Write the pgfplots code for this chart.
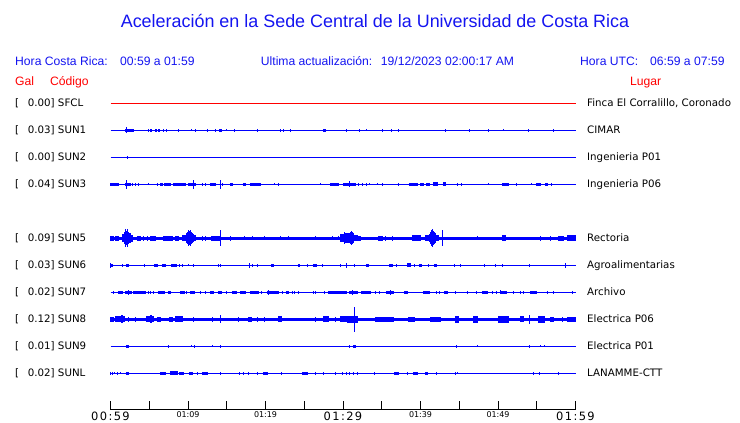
\documentclass[border=0pt]{standalone}
\usepackage{fontspec}
\setmainfont{Liberation Sans}
\newfontfamily\dv{DejaVu Sans}
\newfontfamily\dvl[LetterSpace=12]{DejaVu Sans}
\usepackage{pgfplots}
\usepackage{pgfplotstable}
\pgfplotsset{compat=1.18}
\definecolor{tblue}{RGB}{20,20,240}
\definecolor{tred}{RGB}{255,0,0}
\definecolor{sblue}{RGB}{0,0,255}

% p1 p2 = pixel extent of a burst along the 465 px wide time axis (110 = 00:59, 575 = 01:59), a = half amplitude (px)
\pgfplotstableread{
p1 p2 a
125 127 1.5
126 126 3
128 133 1.5
148 148 1.5
150 151 1.5
155 156 1.5
158 159 1.5
163 163 1.5
166 166 1.5
178 178 1.5
191 191 1
195 195 1.5
207 207 1.5
215 215 1.5
219 221 1.5
226 226 1
234 234 1.5
257 257 1.5
280 280 1.5
283 283 1.5
290 290 1.5
323 325 1.5
346 346 1.5
359 359 1.5
366 366 1
382 382 1.5
391 391 1.5
398 398 1.5
445 445 1.5
469 469 1.5
488 488 1.5
503 503 1
528 528 1.5
553 553 1.5
}\tSUNone
\pgfplotstableread{
p1 p2 a
127 127 1.5
}\tSUNtwo
\pgfplotstableread{
p1 p2 a
110 118 1.5
125 130 1.5
126 126 4.5
132 132 1.5
135 135 1.5
138 138 1.5
148 148 1
157 157 1.5
160 162 1.5
164 170 1.5
173 185 1.5
188 195 1.5
193 193 4.5
202 202 1.5
205 205 1.5
210 215 1.5
220 220 4.5
222 222 1.5
230 232 1.5
243 245 1.5
250 260 1.5
274 274 1
278 278 1.5
320 320 1
330 338 1.5
343 343 1.5
344 355 1.5
349 349 3
358 358 1.5
362 362 1.5
366 366 1.5
369 369 1
377 377 1
382 382 1.5
398 398 1.5
409 417 1.5
420 423 1.5
426 429 1.5
433 437 2
443 445 2
457 457 1.5
461 461 1.5
488 488 1
502 508 1.5
516 516 1.5
531 531 1
536 540 1.5
545 547 1.5
551 551 1.5
}\tSUNthree
\pgfplotstableread{
p1 p2 a
110 113 2.5
115 118 2.5
122 123 4
124 124 6
125 125 9
126 126 7
127 127 9
128 128 6
129 130 5
131 132 3.5
137 140 2.5
143 143 2.5
147 147 2.5
150 155 2.5
163 172 2.5
175 178 2.5
182 185 3
186 186 5
187 187 6
188 188 8
189 189 7
190 190 8
191 191 6
192 192 5
193 193 4
194 195 3
202 202 2.5
205 205 2.5
211 220 2.5
220 220 8
230 230 2.5
244 244 2
252 252 2
264 264 2
280 280 2
288 288 2
315 315 2
332 332 2
338 338 2
340 343 4
344 344 6
345 349 5
350 350 6
351 351 7
352 352 6
353 353 5
354 357 3
358 360 2.5
378 382 2.5
385 385 2.5
392 392 2.5
412 420 3
425 428 3
429 429 4
430 430 6
431 431 8
432 432 9
433 433 7
434 434 6
435 435 5
436 438 3
442 442 8
477 477 2
502 505 3
540 540 2.5
550 550 2.5
558 563 2.5
567 575 3
}\tSUNfive
\pgfplotstableread{
p1 p2 a
110 110 2.5
110 112 1.5
122 122 1.5
126 128 1.5
144 144 1.5
154 157 1.5
162 165 1.5
171 176 1.5
179 179 1.5
182 182 1.5
188 188 1
193 193 1.5
218 218 1.5
220 220 1.5
249 249 2.5
252 252 1.5
257 257 1.5
271 273 1.5
298 299 1.5
307 307 1.5
313 316 1.5
322 322 1.5
340 340 1.5
346 346 2.5
354 354 1.5
366 368 1.5
389 392 1.5
396 396 1.5
407 410 2
414 414 1.5
419 421 1.5
428 428 1.5
434 436 1.5
454 454 1.5
460 460 1.5
484 484 1.5
495 495 1.5
502 502 1.5
529 529 1.5
565 565 2.5
}\tSUNsix
\pgfplotstableread{
p1 p2 a
113 113 1.5
118 122 1.5
125 131 1.5
128 128 2.5
133 136 1.5
137 145 1.5
148 148 1.5
150 150 1.5
153 153 1.5
158 164 1.5
168 170 1.5
180 184 1.5
186 186 1.5
190 194 1.5
200 200 1.5
205 205 1.5
210 213 1.5
218 221 1.5
226 226 1.5
232 236 1.5
240 245 1.5
250 258 1.5
261 261 1.5
267 277 1.5
268 268 2.5
278 278 1.5
282 282 1.5
286 288 1.5
292 292 1.5
294 294 1.5
298 298 1.5
313 313 1.5
315 315 1.5
324 324 1.5
328 346 1.5
349 357 1.5
352 352 2.5
361 370 1.5
375 375 1.5
379 379 1.5
386 393 1.5
390 390 2.5
404 407 1.5
423 429 1.5
436 436 1.5
439 439 1.5
444 447 1.5
455 455 1.5
467 467 1.5
476 476 1.5
482 487 1.5
492 492 1.5
496 496 1.5
500 506 1.5
500 500 2
513 513 1.5
520 520 1.5
523 523 1.5
530 536 1.5
547 547 1.5
553 553 1.5
572 572 1.5
}\tSUNseven
\pgfplotstableread{
p1 p2 a
110 113 2.5
115 124 3
121 122 4
128 128 2.5
135 135 2.5
146 153 3
150 151 4
157 160 2.5
169 172 2.5
175 182 3
193 193 2.5
212 212 2.5
220 220 4
238 238 2.5
248 251 2.5
257 257 2.5
264 264 2.5
278 281 3
315 315 2.5
323 328 3
335 335 2.5
340 347 3
347 357 3.5
354 354 12
375 393 2.5
408 414 2.5
430 440 2.5
455 458 3.5
473 477 3.5
498 508 3.5
520 523 3
529 529 4.5
538 544 3.5
550 553 2.5
562 562 2.5
567 575 2.5
}\tSUNeight
\pgfplotstableread{
p1 p2 a
126 128 1.5
168 168 1.5
191 191 1
194 194 1.5
212 212 1
220 220 1.5
349 349 1.5
353 355 1.5
456 456 1.5
477 477 1
529 529 1.5
540 540 1
544 544 1
}\tSUNnine
\pgfplotstableread{
p1 p2 a
110 110 1.5
112 112 1.5
114 114 1
117 117 1.5
120 120 1
126 128 1.5
160 165 1.5
170 177 2
179 183 1.5
189 192 1.5
197 197 1.5
202 207 1.5
220 220 1.5
239 239 1.5
243 243 1.5
248 248 1.5
257 257 1.5
263 267 1.5
281 281 1.5
302 307 1.5
315 315 1.5
323 323 1.5
335 335 1.5
342 342 1.5
346 346 1.5
349 349 1.5
353 353 1.5
357 357 1.5
374 374 1.5
394 398 1.5
407 407 1.5
413 417 1.5
425 427 1.5
436 436 1.5
455 455 1.5
457 457 1
533 533 1.5
539 539 1.5
558 558 1.5
}\tSUNL

\pgfdeclareplotmark{blob}{\pgfpathrectangle{\pgfpoint{-0.5*\bw bp}{-\ba bp}}{\pgfpoint{\bw bp}{2*\ba bp}}\pgfusepathqfill}
\pgfplotsset{seis/.style={only marks, draw=none, mark=blob, mark options={draw=none, fill=sblue},
  visualization depends on={\thisrow{p2}-\thisrow{p1}+1 \as \bw},
  visualization depends on={\thisrow{a} \as \ba}}}
\newcommand\trace[2]{\addplot[seis] table[x expr={((\thisrow{p1}+\thisrow{p2})/2-110)/7.75}, y expr=#2]{#1};}
\newcommand\base[3]{\addplot[draw=#3, line width=#2, no marks] coordinates {(0,#1) (60,#1)};}

\begin{document}
\begin{tikzpicture}
\begin{axis}[
  at={(110.5bp,13.5bp)}, anchor=south west,
  scale only axis, x=7.75bp, y=1bp,
  xmin=0, xmax=60, ymin=13.5, ymax=330,
  clip=false,
  axis x line*=bottom, axis y line=none,
  x axis line style={-, line width=1bp, black},
  xtick={0,5,...,60}, xtick pos=left,
  tick align=inside, major tick length=8bp,
  tick style={black, line width=1bp},
  xticklabels={{\raisebox{-2.5bp}{\dvl\fontsize{11.5}{12}\selectfont 00:59}},,01:09,,01:19,,{\raisebox{-2.5bp}{\dvl\fontsize{11.5}{12}\selectfont 01:29}},,01:39,,01:49,,{\raisebox{-2.5bp}{\dvl\fontsize{11.5}{12}\selectfont 01:59}}},
  xticklabel style={font=\dv\fontsize{8}{9}\selectfont, anchor=base, yshift=-8bp, inner sep=0pt},
  ytick=\empty,
]
\trace{\tSUNone}{292.5}
\trace{\tSUNtwo}{265.5}
\trace{\tSUNthree}{238.5}
\trace{\tSUNfive}{184.5}
\trace{\tSUNsix}{157.5}
\trace{\tSUNseven}{130.5}
\trace{\tSUNeight}{103.5}
\trace{\tSUNnine}{76.5}
\trace{\tSUNL}{49.5}
\base{319.5}{1bp}{tred}
\base{292.5}{1bp}{sblue}
\base{265.5}{1bp}{sblue}
\base{238.5}{1bp}{sblue}
\base{184.5}{3bp}{sblue}
\base{157.5}{1bp}{sblue}
\base{130.5}{1bp}{sblue}
\base{103.5}{3bp}{sblue}
\base{76.5}{1bp}{sblue}
\base{49.5}{1bp}{sblue}
\end{axis}
\path[use as bounding box] (0,0) rectangle (740bp,423bp);
% title and header
\node[anchor=base, inner sep=0pt, text=tblue, font=\fontsize{18}{20}\selectfont] at (375bp,395bp) {Aceleración en la Sede Central de la Universidad de Costa Rica};
\begin{scope}[every node/.style={anchor=base west, inner sep=0pt, font=\fontsize{12.2}{14}\selectfont}]
\node[text=tblue] at (15bp,357.3bp) {Hora Costa Rica:};
\node[text=tblue] at (120bp,357.3bp) {00:59 a 01:59};
\node[text=tblue] at (260.7bp,357.3bp) {Ultima actualización:};
\node[text=tblue] at (380.7bp,357.3bp) {19/12/2023 02:00:17 AM};
\node[text=tblue] at (580bp,357.3bp) {Hora UTC:};
\node[text=tblue] at (650bp,357.3bp) {06:59 a 07:59};
\node[text=tred] at (15bp,337.5bp) {Gal};
\node[text=tred] at (50bp,337.5bp) {Código};
\node[text=tred] at (630bp,337.5bp) {Lugar};
\end{scope}
\begin{scope}[every node/.style={anchor=base west, inner sep=0pt, font=\dv\fontsize{10.3}{12}\selectfont}]
\foreach \yy/\gal/\cod/\lug in {320/0.00/SFCL/{Finca El Corralillo, Coronado}, 293/0.03/SUN1/CIMAR, 266/0.00/SUN2/Ingenieria P01, 239/0.04/SUN3/Ingenieria P06, 185/0.09/SUN5/Rectoria, 158/0.03/SUN6/Agroalimentarias, 131/0.02/SUN7/Archivo, 104/0.12/SUN8/Electrica P06, 77/0.01/SUN9/Electrica P01, 50/0.02/SUNL/LANAMME-CTT}{
  \node at (15bp,\yy bp-3.7bp) {[};
  \node at (27.7bp,\yy bp-3.7bp) {\gal] \cod};
  \node at (587bp,\yy bp-3.7bp) {\lug};
}
\end{scope}
\end{tikzpicture}
\end{document}
